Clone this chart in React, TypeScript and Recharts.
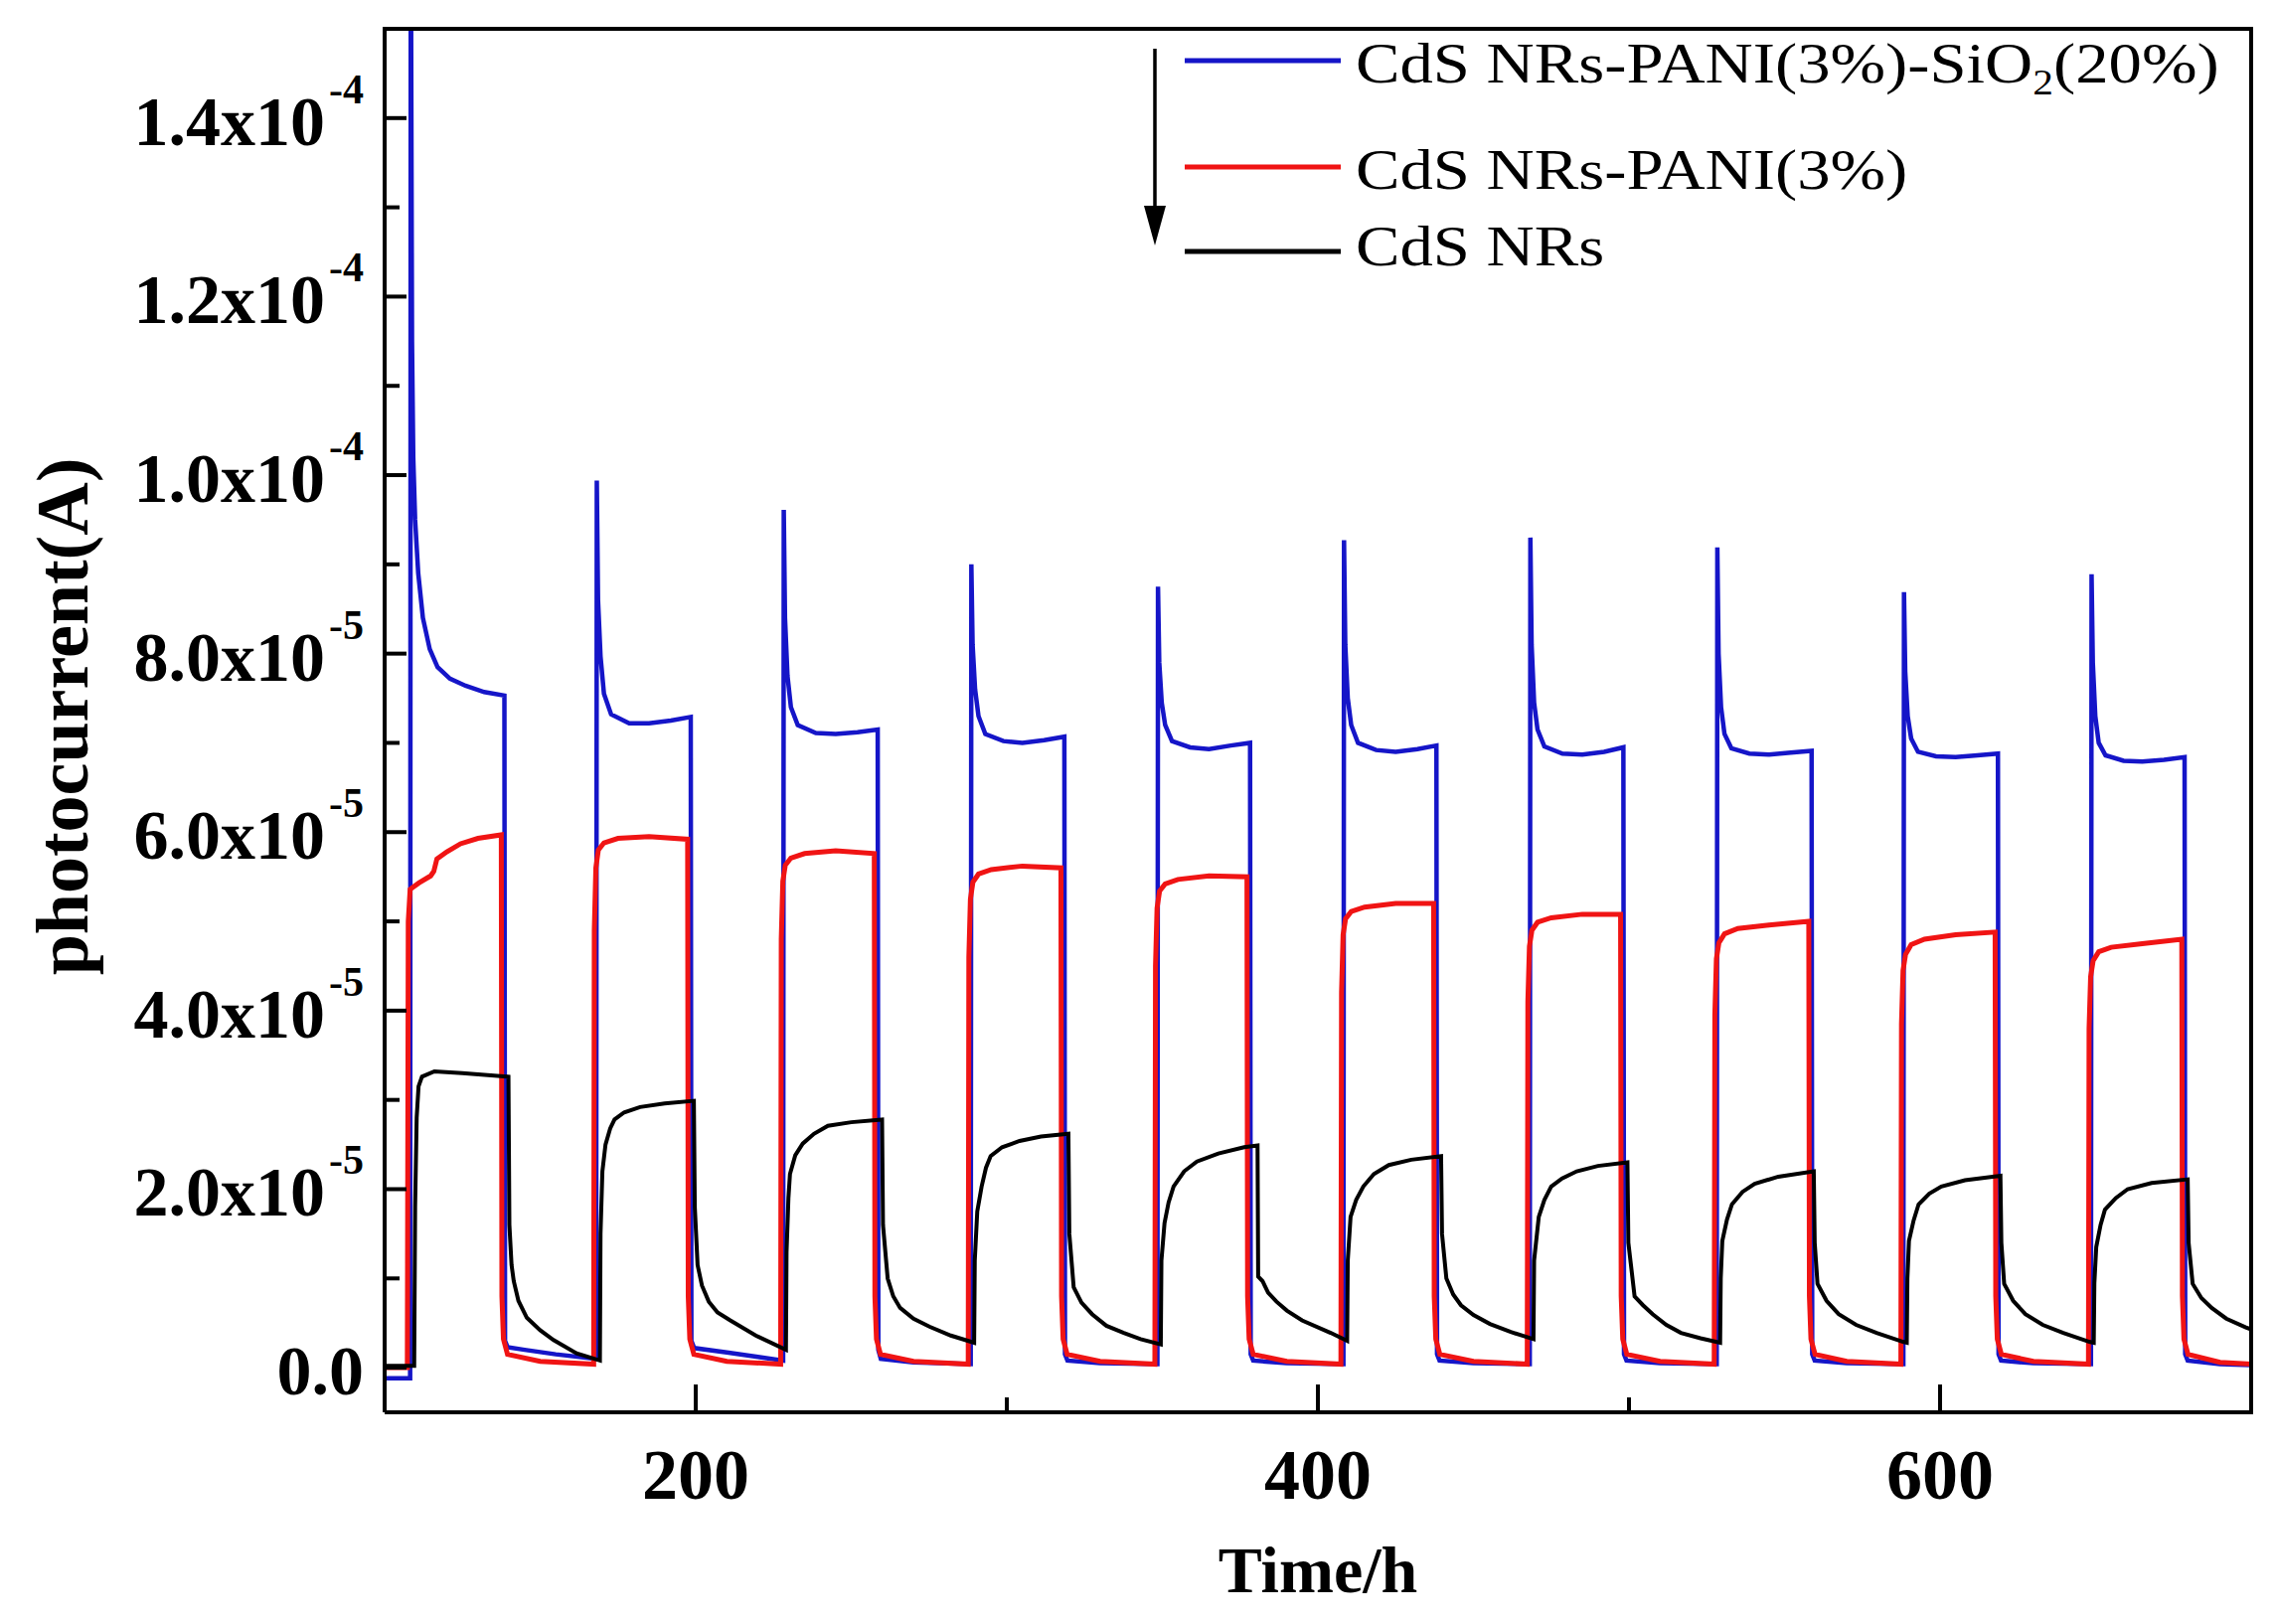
import { LineChart, Line, XAxis, YAxis, Legend, ReferenceLine } from "recharts";

type Pt = [number, number];

// time (h), photocurrent in units of 1e-5 A
const bluePts: Pt[] = [
  [100, -0.12], [108.2, -0.12], [108.4, 16.5], [108.8, 11.5], [109.2, 10.2], [109.8, 9.5], [110.8, 8.9], [112.3, 8.4], [114.5, 8.05], [117, 7.85], [121, 7.72], [126, 7.64], [132, 7.57], [138.5, 7.53], [138.7, 0.3], [139.5, 0.23], [145, 0.2], [155, 0.15], [168, 0.1],
  [168.2, 9.94], [168.6, 8.6], [169.4, 7.97], [170.5, 7.55], [172.8, 7.32], [178.6, 7.22], [185, 7.22], [192, 7.25], [198.4, 7.29], [198.6, 0.3], [199.5, 0.22], [210, 0.17], [220, 0.12], [228.1, 0.08],
  [228.3, 9.61], [228.7, 8.4], [229.5, 7.75], [230.6, 7.4], [232.8, 7.2], [238.6, 7.11], [245, 7.1], [252, 7.12], [258.5, 7.15], [258.7, 0.2], [259.5, 0.1], [270, 0.06], [288.4, 0.04],
  [288.6, 9.0], [289, 8.1], [289.8, 7.6], [290.9, 7.3], [293.1, 7.1], [298.9, 7.02], [305, 7.0], [312, 7.03], [318.5, 7.07], [318.7, 0.15], [319.5, 0.08], [330, 0.05], [348.4, 0.04],
  [348.6, 8.75], [349, 7.9], [349.8, 7.45], [350.9, 7.2], [353.1, 7.02], [358.9, 6.95], [365, 6.93], [372, 6.97], [378.2, 7.0], [378.4, 0.15], [379.2, 0.08], [390, 0.05], [408.2, 0.04],
  [408.4, 9.27], [408.8, 8.1], [409.6, 7.5], [410.7, 7.2], [412.9, 7.0], [418.7, 6.92], [425, 6.9], [432, 6.93], [438.1, 6.97], [438.3, 0.15], [439.1, 0.08], [450, 0.05], [468.1, 0.04],
  [468.3, 9.3], [468.7, 8.1], [469.5, 7.45], [470.6, 7.15], [472.8, 6.96], [478.6, 6.88], [485, 6.87], [492, 6.9], [498.2, 6.95], [498.4, 0.15], [499.2, 0.08], [510, 0.05], [528.2, 0.04],
  [528.4, 9.19], [528.8, 8.0], [529.6, 7.4], [530.7, 7.1], [532.9, 6.94], [538.7, 6.88], [545, 6.87], [552, 6.89], [558.7, 6.91], [558.9, 0.15], [559.7, 0.08], [570, 0.05], [588.2, 0.04],
  [588.4, 8.69], [588.8, 7.8], [589.6, 7.3], [590.7, 7.05], [592.9, 6.9], [598.7, 6.85], [605, 6.84], [612, 6.86], [618.6, 6.88], [618.8, 0.15], [619.6, 0.08], [630, 0.05], [648.5, 0.04],
  [648.7, 8.89], [649.1, 7.9], [649.9, 7.3], [651, 7.0], [653.2, 6.86], [659, 6.8], [665, 6.79], [672, 6.81], [678.6, 6.84], [678.8, 0.15], [679.6, 0.08], [690, 0.04], [700, 0.03],
];

const redPts: Pt[] = [
  [100, 0.0], [107.3, 0.0], [107.6, 5.0], [108.2, 5.36], [111, 5.43], [114.8, 5.51], [115.8, 5.56], [116.8, 5.7], [120, 5.78], [124.4, 5.87], [130, 5.93], [137.5, 5.97], [137.7, 0.8], [138.2, 0.32], [139.5, 0.15], [150, 0.07], [167.2, 0.04],
  [167.4, 4.9], [167.9, 5.6], [168.7, 5.8], [170.5, 5.88], [175, 5.93], [185, 5.95], [197.4, 5.92], [197.6, 0.8], [198.1, 0.32], [199.4, 0.15], [210, 0.07], [227.3, 0.04],
  [227.5, 4.8], [228, 5.45], [228.8, 5.63], [230.6, 5.71], [235, 5.76], [245, 5.79], [257.4, 5.76], [257.6, 0.8], [258.1, 0.32], [259.4, 0.15], [270, 0.07], [287.6, 0.04],
  [287.8, 4.6], [288.3, 5.25], [289.1, 5.44], [290.9, 5.53], [295, 5.58], [305, 5.62], [317.4, 5.6], [317.6, 0.8], [318.1, 0.32], [319.4, 0.15], [330, 0.07], [347.6, 0.04],
  [347.8, 4.5], [348.3, 5.15], [349.1, 5.34], [350.9, 5.42], [355, 5.47], [365, 5.51], [377.2, 5.5], [377.4, 0.8], [377.9, 0.32], [379.2, 0.15], [390, 0.07], [407.4, 0.04],
  [407.6, 4.2], [408.1, 4.85], [408.9, 5.03], [410.7, 5.11], [415, 5.16], [425, 5.2], [437.2, 5.2], [437.4, 0.8], [437.9, 0.32], [439.2, 0.15], [450, 0.07], [467.3, 0.04],
  [467.5, 4.1], [468, 4.72], [468.8, 4.9], [470.6, 4.99], [475, 5.04], [485, 5.08], [497.3, 5.08], [497.5, 0.8], [498, 0.32], [499.3, 0.15], [510, 0.07], [527.4, 0.04],
  [527.6, 3.95], [528.1, 4.58], [528.9, 4.76], [530.7, 4.86], [535, 4.92], [545, 4.96], [557.8, 5.0], [558, 0.8], [558.5, 0.32], [559.8, 0.15], [570, 0.07], [587.4, 0.04],
  [587.6, 3.85], [588.1, 4.45], [588.9, 4.63], [590.7, 4.74], [595, 4.8], [605, 4.85], [617.7, 4.88], [617.9, 0.8], [618.4, 0.32], [619.7, 0.15], [630, 0.07], [647.7, 0.04],
  [647.9, 3.8], [648.4, 4.38], [649.2, 4.56], [651, 4.66], [655, 4.71], [665, 4.75], [677.7, 4.8], [677.9, 0.8], [678.4, 0.32], [679.7, 0.15], [690, 0.06], [700, 0.04],
];

const blackPts: Pt[] = [
  [100, 0.02], [109.5, 0.02], [109.8, 1.8], [110.3, 2.8], [110.9, 3.15], [112, 3.26], [116, 3.32], [125, 3.3], [139.8, 3.26], [140.1, 1.6], [140.8, 1.15], [141.5, 0.97], [143, 0.75], [145.7, 0.56], [150, 0.42], [154.3, 0.31], [161.7, 0.16], [169.2, 0.08],
  [169.4, 1.5], [170, 2.2], [171, 2.5], [172.5, 2.68], [173.9, 2.78], [177, 2.86], [182.1, 2.92], [190, 2.96], [199.4, 2.99], [199.7, 1.8], [200.6, 1.15], [202, 0.92], [204.2, 0.74], [207, 0.62], [211.1, 0.53], [219.3, 0.36], [229, 0.2],
  [229.2, 1.3], [229.8, 1.9], [230.3, 2.17], [232, 2.38], [234.4, 2.51], [238, 2.62], [242.5, 2.71], [250, 2.75], [259.9, 2.78], [260.2, 1.6], [261.7, 1.0], [263.5, 0.8], [265.7, 0.67], [270, 0.55], [275.1, 0.46], [282, 0.36], [289.5, 0.28],
  [289.7, 1.2], [290.5, 1.75], [291.9, 2.03], [293.3, 2.24], [294.8, 2.37], [298.5, 2.47], [304.1, 2.54], [311, 2.59], [319.8, 2.62], [320.1, 1.5], [321.5, 0.9], [324, 0.73], [327.4, 0.6], [332, 0.47], [337.6, 0.39], [343, 0.32], [349.5, 0.26],
  [349.7, 1.2], [350.7, 1.62], [352, 1.85], [353.6, 2.03], [357, 2.2], [361.1, 2.31], [368, 2.4], [376.3, 2.47], [380.6, 2.49], [380.8, 1.02], [382.2, 0.97], [384, 0.84], [386.7, 0.74], [390, 0.64], [394.9, 0.53], [404.1, 0.39], [409.4, 0.3],
  [409.6, 1.2], [410.5, 1.69], [412.3, 1.88], [414.6, 2.03], [418, 2.17], [422.8, 2.27], [430, 2.33], [439.6, 2.37], [439.9, 1.5], [441.3, 1.0], [443.5, 0.82], [446, 0.7], [450, 0.59], [455.3, 0.49], [462, 0.4], [469.3, 0.32],
  [469.5, 1.2], [471, 1.69], [472.8, 1.88], [475, 2.03], [478.5, 2.12], [483.2, 2.2], [490, 2.26], [499.5, 2.3], [499.8, 1.4], [501.8, 0.8], [504.5, 0.7], [507.6, 0.6], [512, 0.48], [516.7, 0.39], [523, 0.33], [529.3, 0.28],
  [529.5, 1.0], [530, 1.42], [531.5, 1.66], [533.1, 1.83], [536.5, 1.97], [540.4, 2.06], [548, 2.14], [559.4, 2.2], [559.7, 1.4], [560.6, 0.94], [563.5, 0.75], [567.4, 0.6], [573, 0.48], [579.6, 0.39], [588.1, 0.29], [589.3, 0.28],
  [589.5, 1.0], [590, 1.42], [591.5, 1.65], [593.1, 1.83], [596.5, 1.95], [600.4, 2.03], [608, 2.1], [619.4, 2.15], [619.7, 1.4], [620.6, 0.94], [623.5, 0.75], [627.4, 0.6], [633, 0.48], [639.6, 0.39], [648, 0.29], [649.4, 0.28],
  [649.6, 0.95], [650.2, 1.35], [651.6, 1.6], [653, 1.77], [656.5, 1.9], [660.3, 2.0], [668, 2.07], [679.6, 2.11], [679.9, 1.4], [681.2, 0.94], [684, 0.78], [687.3, 0.67], [692, 0.55], [698.3, 0.45], [700, 0.43],
];

const xTicks = [200, 300, 400, 500, 600];
const yTicks = [0, 1, 2, 3, 4, 5, 6, 7, 8, 9, 10, 11, 12, 13, 14];

const series = [
  { key: "blue", name: "CdS NRs-PANI(3%)-SiO2(20%)", color: "#1515c8", width: 4.5, pts: bluePts },
  { key: "red", name: "CdS NRs-PANI(3%)", color: "#f01414", width: 5, pts: redPts },
  { key: "black", name: "CdS NRs", color: "#000000", width: 4, pts: blackPts },
];

const serif = '"Liberation Serif", "Times New Roman", serif';

const toRows = (pts: Pt[]) => pts.map(([t, v]) => ({ t, v }));

const YTick = (props: any) => {
  const { x, y, payload } = props;
  const v = payload.value;
  const major = v % 2 === 0;
  let mant = "";
  let exp = "";
  if (major) {
    if (v === 0) mant = "0.0";
    else if (v < 10) { mant = v.toFixed(1) + "x10"; exp = "-5"; }
    else { mant = (v / 10).toFixed(1) + "x10"; exp = "-4"; }
  }
  return (
    <g>
      <line x1={x} x2={x + (major ? 22 : 15)} y1={y} y2={y} stroke="#000" strokeWidth={4} />
      {major && (
        <text x={x - 21} y={y + 27} textAnchor="end" fontFamily={serif} fontWeight="bold" fontSize={70} fill="#000">
          {mant}
          {exp && <tspan dx={4} dy={-42} fontSize={42}>{exp}</tspan>}
        </text>
      )}
    </g>
  );
};

const XTick = (props: any) => {
  const { x, y, payload } = props;
  const major = payload.value % 200 === 0;
  return (
    <g>
      <line x1={x} x2={x} y1={y} y2={y - (major ? 28 : 15)} stroke="#000" strokeWidth={4} />
      {major && (
        <text x={x} y={y + 87} textAnchor="middle" fontFamily={serif} fontWeight="bold" fontSize={72} fill="#000">
          {payload.value}
        </text>
      )}
    </g>
  );
};

const YLabel = (props: any) => {
  const vb = props.viewBox || { y: 29, height: 1392 };
  const cy = vb.y + vb.height / 2 - 4;
  return (
    <text transform={`translate(88, ${cy}) rotate(-90)`} textAnchor="middle" fontFamily={serif} fontWeight="bold" fontSize={74} fill="#000">
      photocurrent(A)
    </text>
  );
};

const XLabel = (props: any) => {
  const vb = props.viewBox || { x: 387, y: 1421, width: 1878 };
  return (
    <text x={vb.x + vb.width / 2} y={vb.y + 181} textAnchor="middle" fontFamily={serif} fontWeight="bold" fontSize={66} fill="#000">
      Time/h
    </text>
  );
};

const renderName = (name: string) => {
  const i = name.indexOf("SiO2");
  if (i < 0) return name;
  return (
    <>
      {name.slice(0, i + 3)}
      <tspan fontSize={36} dy={12}>2</tspan>
      <tspan dy={-12}>{name.slice(i + 4)}</tspan>
    </>
  );
};

const lineY = [31, 138, 223];
const textY = [53, 160, 237];

const LegendBox = () => (
  <svg width={1150} height={260} style={{ display: "block", overflow: "visible" }}>
    <line x1={22} y1={19} x2={22} y2={180} stroke="#000" strokeWidth={3.5} />
    <polygon points="11,177 33,177 22,217" fill="#000" />
    {series.map((s, i) => (
      <g key={s.key}>
        <line x1={52} x2={209} y1={lineY[i]} y2={lineY[i]} stroke={s.color} strokeWidth={5} />
        <text transform={`translate(224, ${textY[i]}) scale(1.15, 1)`} fontFamily={serif} fontSize={58} fill="#000">
          {renderName(s.name)}
        </text>
      </g>
    ))}
  </svg>
);

export default function App() {
  return (
    <div style={{ position: "absolute", left: 0, top: 0, background: "#fff" }}>
      <LineChart width={2291} height={1634} margin={{ top: 29, right: 26, bottom: 0, left: 0 }}>
        <XAxis
          type="number"
          dataKey="t"
          domain={[100, 700]}
          ticks={xTicks}
          interval={0}
          allowDataOverflow
          height={213}
          tickSize={0}
          tickMargin={0}
          tickLine={false}
          axisLine={{ stroke: "#000", strokeWidth: 4 }}
          tick={<XTick />}
          label={<XLabel />}
        />
        <YAxis
          type="number"
          dataKey="v"
          domain={[-0.5, 15]}
          ticks={yTicks}
          interval={0}
          allowDataOverflow
          width={387}
          tickSize={0}
          tickMargin={0}
          tickLine={false}
          axisLine={{ stroke: "#000", strokeWidth: 4 }}
          tick={<YTick />}
          label={<YLabel />}
        />
        {series.map((s) => (
          <Line
            key={s.key}
            data={toRows(s.pts)}
            dataKey="v"
            name={s.name}
            type="linear"
            stroke={s.color}
            strokeWidth={s.width}
            dot={false}
            activeDot={false}
            isAnimationActive={false}
          />
        ))}
        <ReferenceLine y={15} stroke="#000" strokeWidth={4} strokeLinecap="square" />
        <ReferenceLine x={700} stroke="#000" strokeWidth={4} strokeLinecap="square" />
        <Legend
          layout="horizontal"
          verticalAlign="middle"
          align="center"
          content={() => <LegendBox />}
          wrapperStyle={{ left: 1140, top: 30, width: 1150, height: 260 }}
        />
      </LineChart>
    </div>
  );
}
